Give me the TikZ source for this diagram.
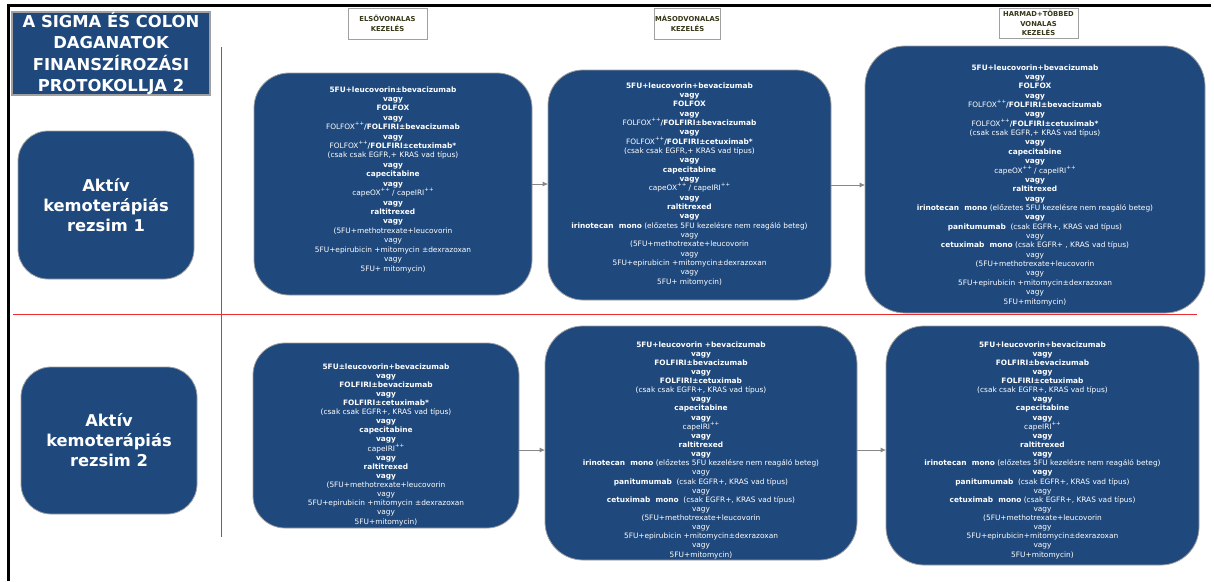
\documentclass[tikz,border=0pt]{standalone}
\usepackage{fontspec}
\setmainfont{DejaVu Sans}
\usetikzlibrary{arrows.meta}
\definecolor{boxblue}{RGB}{31,73,125}
\definecolor{edgegray}{RGB}{160,160,160}
\definecolor{hdrtext}{RGB}{55,55,25}
\definecolor{redline}{RGB}{235,45,45}
\definecolor{arrgray}{RGB}{135,135,135}
\newcommand{\pp}{\smash{\raisebox{4pt}{\fontsize{5.5}{5}\selectfont ++}}}
\newcommand{\bv}{\textbf{vagy}}
\begin{document}
\begin{tikzpicture}[x=1pt,y=-1pt,
  bluebox/.style={draw=edgegray, line width=0.8pt, fill=boxblue, inner sep=0pt},
  txt/.style={text=white, align=center, inner sep=0pt, font=\fontsize{7.4}{#1}\selectfont},
  hdr/.style={draw=edgegray, line width=0.8pt, fill=white, inner sep=0pt, text=hdrtext, align=center, font=\fontsize{6.8}{9.4}\selectfont\bfseries},
  sidebox/.style={bluebox, rounded corners=30pt, minimum width=176pt, minimum height=148pt, text=white, align=center, font=\fontsize{16.3}{20}\selectfont\bfseries},
  arr/.style={draw=arrgray, line width=0.9pt, -{Triangle[length=5pt,width=4.5pt]}}
]
\fill[white] (0,0) rectangle (1214,581);
\useasboundingbox (0,0) rectangle (1214,581);
% frame
\draw[line width=3pt] (1211,5) -- (8.5,5) -- (8.5,581);
% red grid lines
\draw[redline, line width=1pt] (221,47) -- (221,537);
\draw[redline, line width=1pt] (13,314) -- (1197,314);
% title
\node[draw=edgegray, line width=1.2pt, fill=boxblue, minimum width=198pt, minimum height=83pt, inner sep=0pt, text=white, align=center, font=\fontsize{16.4}{21.3}\selectfont\bfseries] (title) at (111,53.5) {A SIGMA ÉS COLON\\DAGANATOK\\FINANSZÍROZÁSI\\PROTOKOLLJA 2};
% headers
\node[hdr, minimum width=79pt, minimum height=31pt] (h1) at (387.5,23.5) {ELSŐVONALAS\\KEZELÉS};
\node[hdr, minimum width=66pt, minimum height=31pt] (h2) at (687.5,23.5) {MÁSODVONALAS\\KEZELÉS};
\node[hdr, minimum width=79pt, minimum height=30pt] (h3) at (1038.5,23) {HARMAD+TÖBBED\\VONALAS\\KEZELÉS};
% side boxes
\node[sidebox] (L1) at (106,205) {Aktív\\kemoterápiás\\rezsim 1};
\node[sidebox, minimum height=147pt] (L2) at (109,440.5) {Aktív\\kemoterápiás\\rezsim 2};
% main boxes
\node[bluebox, rounded corners=35pt, minimum width=278pt, minimum height=222pt] (b11) at (393,184) {};
\node[bluebox, rounded corners=35pt, minimum width=283pt, minimum height=230pt] (b12) at (689.5,185) {};
\node[bluebox, rounded corners=40pt, minimum width=340pt, minimum height=267pt] (b13) at (1035,179.5) {};
\node[bluebox, rounded corners=32pt, minimum width=266pt, minimum height=185pt] (b21) at (386,435.5) {};
\node[bluebox, rounded corners=38pt, minimum width=312pt, minimum height=234pt] (b22) at (701,443) {};
\node[bluebox, rounded corners=38pt, minimum width=313pt, minimum height=239pt] (b23) at (1042.5,445.5) {};
% arrows
\draw[arr] (b11.east) -- (b11.east -| b12.west);
\draw[arr] (b12.east) -- (b12.east -| b13.west);
\draw[arr] ([yshift=-14.5pt]b21.east) -- ([yshift=-14.5pt]b21.east -| b22.west);
\draw[arr] ([yshift=-7pt]b22.east) -- ([yshift=-7pt]b22.east -| b23.west);
% texts
\node[txt=9.42] (t11) at (393,179.5) {\textbf{5FU+leucovorin±bevacizumab}\\
\bv\\
\textbf{FOLFOX}\\
\bv\\
FOLFOX\pp\textbf{/FOLFIRI±bevacizumab}\\
\bv\\
FOLFOX\pp\textbf{/FOLFIRI±cetuximab*}\\
(csak csak EGFR,+ KRAS vad típus)\\
\bv\\
\textbf{capecitabine}\\
\bv\\
capeOX\pp{} / capeIRI\pp\\
\bv\\
\textbf{raltitrexed}\\
\bv\\
(5FU+methotrexate+leucovorin\\
vagy\\
5FU+epirubicin +mitomycin ±dexrazoxan\\
vagy\\
5FU+ mitomycin)};
\node[txt=9.33] (t12) at (689.5,184) {\textbf{5FU+leucovorin+bevacizumab}\\
\bv\\
\textbf{FOLFOX}\\
\bv\\
FOLFOX\pp\textbf{/FOLFIRI±bevacizumab}\\
\bv\\
FOLFOX\pp\textbf{/FOLFIRI±cetuximab*}\\
(csak csak EGFR,+ KRAS vad típus)\\
\bv\\
\textbf{capecitabine}\\
\bv\\
capeOX\pp{} / capeIRI\pp\\
\bv\\
\textbf{raltitrexed}\\
\bv\\
\textbf{irinotecan\ \ mono} (előzetes 5FU kezelésre nem reagáló beteg)\\
vagy\\
(5FU+methotrexate+leucovorin\\
vagy\\
5FU+epirubicin +mitomycin±dexrazoxan\\
vagy\\
5FU+ mitomycin)};
\node[txt=9.36] (t13) at (1035,185) {\textbf{5FU+leucovorin+bevacizumab}\\
\bv\\
\textbf{FOLFOX}\\
\bv\\
FOLFOX\pp\textbf{/FOLFIRI±bevacizumab}\\
\bv\\
FOLFOX\pp\textbf{/FOLFIRI±cetuximab*}\\
(csak csak EGFR,+ KRAS vad típus)\\
\bv\\
\textbf{capecitabine}\\
\bv\\
capeOX\pp{} / capeIRI\pp\\
\bv\\
\textbf{raltitrexed}\\
\bv\\
\textbf{irinotecan\ \ mono} (előzetes 5FU kezelésre nem reagáló beteg)\\
\bv\\
\textbf{panitumumab}\ \ (csak EGFR+, KRAS vad típus)\\
vagy\\
\textbf{cetuximab\ \ mono} (csak EGFR+ , KRAS vad típus)\\
vagy\\
(5FU+methotrexate+leucovorin\\
vagy\\
5FU+epirubicin +mitomycin±dexrazoxan\\
vagy\\
5FU+mitomycin)};
\node[txt=9.12] (t21) at (386,444.5) {\textbf{5FU±leucovorin+bevacizumab}\\
\bv\\
\textbf{FOLFIRI±bevacizumab}\\
\bv\\
\textbf{FOLFIRI±cetuximab*}\\
(csak csak EGFR+, KRAS vad típus)\\
\bv\\
\textbf{capecitabine}\\
\bv\\
capeIRI\pp\\
\bv\\
\textbf{raltitrexed}\\
\bv\\
(5FU+methotrexate+leucovorin\\
vagy\\
5FU+epirubicin +mitomycin ±dexrazoxan\\
vagy\\
5FU+mitomycin)};
\node[txt=9.13] (t22) at (701,450) {\textbf{5FU+leucovorin +bevacizumab}\\
\bv\\
\textbf{FOLFIRI±bevacizumab}\\
\bv\\
\textbf{FOLFIRI±cetuximab}\\
(csak csak EGFR+, KRAS vad típus)\\
\bv\\
\textbf{capecitabine}\\
\bv\\
capeIRI\pp\\
\bv\\
\textbf{raltitrexed}\\
\bv\\
\textbf{irinotecan\ \ mono} (előzetes 5FU kezelésre nem reagáló beteg)\\
vagy\\
\textbf{panitumumab}\ \ (csak EGFR+, KRAS vad típus)\\
vagy\\
\textbf{cetuximab\ \ mono}\ \ (csak EGFR+, KRAS vad típus)\\
vagy\\
(5FU+methotrexate+leucovorin\\
vagy\\
5FU+epirubicin +mitomycin±dexrazoxan\\
vagy\\
5FU+mitomycin)};
\node[txt=9.13] (t23) at (1042.5,450) {\textbf{5FU+leucovorin+bevacizumab}\\
\bv\\
\textbf{FOLFIRI±bevacizumab}\\
\bv\\
\textbf{FOLFIRI±cetuximab}\\
(csak csak EGFR+, KRAS vad típus)\\
\bv\\
\textbf{capecitabine}\\
\bv\\
capeIRI\pp\\
\bv\\
\textbf{raltitrexed}\\
\bv\\
\textbf{irinotecan\ \ mono} (előzetes 5FU kezelésre nem reagáló beteg)\\
\bv\\
\textbf{panitumumab}\ \ (csak EGFR+, KRAS vad típus)\\
vagy\\
\textbf{cetuximab\ \ mono} (csak EGFR+, KRAS vad típus)\\
vagy\\
(5FU+methotrexate+leucovorin\\
vagy\\
5FU+epirubicin+mitomycin±dexrazoxan\\
vagy\\
5FU+mitomycin)};
\end{tikzpicture}
\end{document}
